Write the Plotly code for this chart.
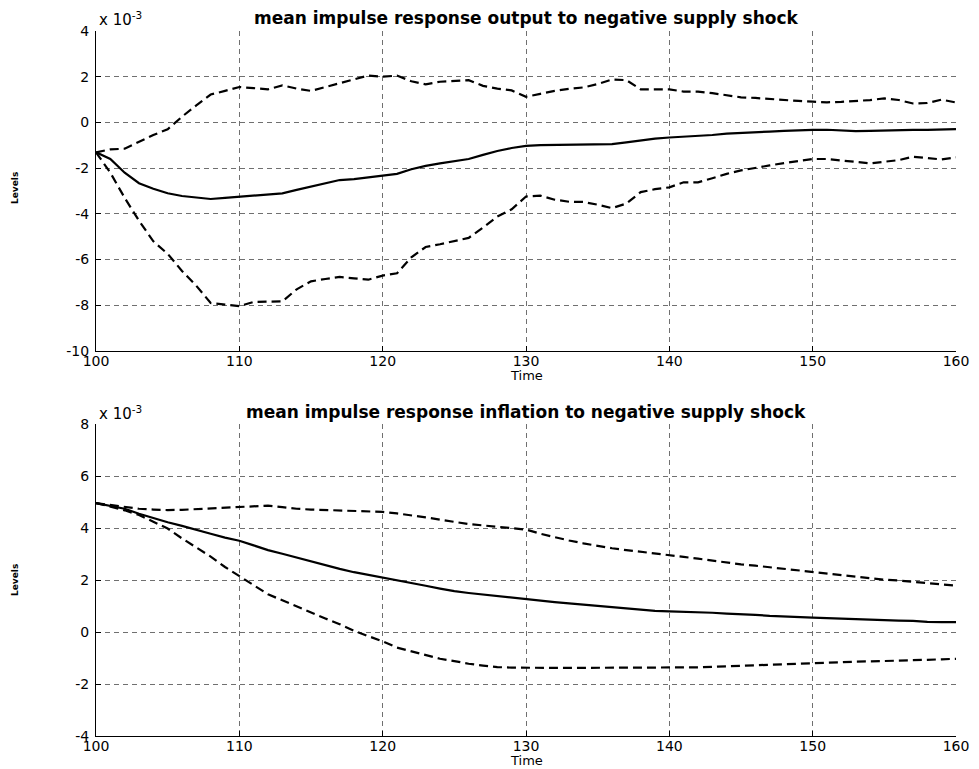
import plotly.graph_objects as go
from plotly.subplots import make_subplots

# time axis (periods)
time = list(range(100, 161))

# output response, units of 1e-3
output_upper = [-1.31, -1.18, -1.15, -0.85, -0.55, -0.30, 0.25, 0.75, 1.22, 1.38,
                1.55, 1.50, 1.45, 1.62, 1.48, 1.38, 1.55, 1.72, 1.90, 2.05,
                2.00, 2.05, 1.80, 1.67, 1.78, 1.82, 1.85, 1.60, 1.48, 1.40,
                1.12, 1.25, 1.38, 1.47, 1.53, 1.68, 1.88, 1.85, 1.45, 1.45,
                1.45, 1.35, 1.35, 1.28, 1.20, 1.10, 1.07, 1.02, 0.98, 0.94,
                0.91, 0.88, 0.90, 0.93, 0.98, 1.05, 0.98, 0.83, 0.85, 1.00,
                0.87]
output_mean = [-1.31, -1.60, -2.20, -2.66, -2.90, -3.10, -3.22, -3.30, -3.35, -3.30,
               -3.25, -3.22, -3.15, -3.10, -2.95, -2.81, -2.65, -2.52, -2.48, -2.40,
               -2.35, -2.25, -2.05, -1.90, -1.79, -1.68, -1.60, -1.42, -1.25, -1.12,
               -1.03, -0.99, -0.98, -0.96, -0.95, -0.95, -0.95, -0.87, -0.78, -0.71,
               -0.66, -0.63, -0.60, -0.55, -0.49, -0.45, -0.43, -0.40, -0.37, -0.34,
               -0.33, -0.32, -0.36, -0.38, -0.37, -0.35, -0.34, -0.33, -0.33, -0.31,
               -0.29]
output_lower = [-1.31, -2.20, -3.30, -4.30, -5.20, -5.75, -6.50, -7.15, -7.90, -7.98,
                -8.04, -7.85, -7.83, -7.83, -7.30, -6.95, -6.85, -6.76, -6.82, -6.88,
                -6.70, -6.60, -5.90, -5.45, -5.33, -5.20, -5.05, -4.60, -4.12, -3.80,
                -3.24, -3.20, -3.38, -3.47, -3.48, -3.60, -3.75, -3.55, -3.05, -2.92,
                -2.84, -2.62, -2.62, -2.44, -2.25, -2.10, -1.98, -1.88, -1.78, -1.70,
                -1.60, -1.60, -1.67, -1.72, -1.79, -1.72, -1.65, -1.50, -1.55, -1.62,
                -1.53]

# inflation response, units of 1e-3
infl_upper = [4.96, 4.88, 4.80, 4.74, 4.71, 4.69, 4.70, 4.73, 4.76, 4.79,
              4.81, 4.85, 4.86, 4.80, 4.74, 4.71, 4.69, 4.67, 4.66, 4.64,
              4.62, 4.56, 4.49, 4.41, 4.32, 4.24, 4.15, 4.10, 4.04, 3.99,
              3.94, 3.78, 3.64, 3.52, 3.41, 3.31, 3.22, 3.15, 3.09, 3.02,
              2.96, 2.89, 2.82, 2.74, 2.67, 2.60, 2.55, 2.49, 2.43, 2.37,
              2.31, 2.24, 2.17, 2.11, 2.06, 2.01, 1.98, 1.93, 1.87, 1.82,
              1.78]
infl_mean = [4.96, 4.84, 4.74, 4.55, 4.38, 4.22, 4.08, 3.94, 3.78, 3.63,
             3.51, 3.33, 3.15, 3.01, 2.86, 2.71, 2.56, 2.43, 2.30, 2.20,
             2.10, 1.99, 1.88, 1.78, 1.67, 1.57, 1.50, 1.44, 1.37, 1.31,
             1.27, 1.21, 1.15, 1.10, 1.05, 1.01, 0.95, 0.89, 0.84, 0.81,
             0.79, 0.78, 0.77, 0.74, 0.71, 0.69, 0.66, 0.62, 0.59, 0.57,
             0.55, 0.53, 0.51, 0.48, 0.46, 0.45, 0.44, 0.43, 0.39, 0.38,
             0.38]
infl_lower = [4.96, 4.82, 4.68, 4.50, 4.25, 3.98, 3.60, 3.25, 2.90, 2.50,
              2.14, 1.78, 1.45, 1.22, 0.98, 0.75, 0.52, 0.30, 0.05, -0.16,
              -0.36, -0.60, -0.74, -0.90, -1.03, -1.12, -1.22, -1.29, -1.35, -1.37,
              -1.38, -1.38, -1.38, -1.38, -1.38, -1.38, -1.38, -1.38, -1.38, -1.38,
              -1.38, -1.36, -1.36, -1.34, -1.32, -1.29, -1.27, -1.24, -1.22, -1.20,
              -1.18, -1.16, -1.15, -1.14, -1.13, -1.12, -1.10, -1.09, -1.07, -1.05,
              -1.03]

x_ticks = [100, 110, 120, 130, 140, 150, 160]
y_ticks_top = [-10, -8, -6, -4, -2, 0, 2, 4]
y_ticks_bottom = [-4, -2, 0, 2, 4, 6, 8]

titles = ["mean impulse response output to negative supply shock",
          "mean impulse response inflation to negative supply shock"]

FONT = "DejaVu Sans, Liberation Sans, Arial"
W, H = 979, 769
OFF = 8  # page body margin shifts the figure by 8px
# plot box in screen pixels
LEFT, RIGHT, TOP, BOTTOM = 96, 956, 31, 736
ML, MT = LEFT - OFF, TOP - OFF
MR, MB = W - (RIGHT - OFF), H - (BOTTOM - OFF)
PW, PH = RIGHT - LEFT, BOTTOM - TOP


def py(pix):
    # screen pixel row -> paper y
    return (BOTTOM - pix) / PH


def px(pix):
    return (pix - LEFT) / PW


fig = make_subplots(rows=2, cols=1)

panels = [
    (1, output_upper, output_mean, output_lower),
    (2, infl_upper, infl_mean, infl_lower),
]
for row, up, mid, lo in panels:
    for ys, dash in [(up, "9px,5px"), (lo, "9px,5px"), (mid, "solid")]:
        fig.add_trace(go.Scatter(
            x=time, y=ys, mode="lines",
            line=dict(color="black", width=2.2, dash=dash),
            showlegend=False, hoverinfo="skip"
        ), row=row, col=1)

axis_common = dict(
    automargin=False,
    showgrid=True, gridcolor="#707070", gridwidth=1, griddash="5px,4px",
    zeroline=False, showline=True, linecolor="black", linewidth=1,
    ticks="inside", ticklen=5, tickcolor="black",
    tickfont=dict(family=FONT, size=14, color="black"),
)

fig.update_xaxes(range=[100, 160], tickvals=x_ticks, ticklabelstandoff=-3,
                 ticktext=[str(v) for v in x_ticks], **axis_common)
fig.update_yaxes(ticklabelstandoff=3, **axis_common)

fig.update_layout(
    xaxis=dict(domain=[0, 1]),
    xaxis2=dict(domain=[0, 1]),
    yaxis=dict(domain=[py(351), 1], range=[-10, 4], tickvals=y_ticks_top,
               ticktext=[str(v) for v in y_ticks_top]),
    yaxis2=dict(domain=[0, py(424)], range=[-4, 8], tickvals=y_ticks_bottom,
                ticktext=[str(v) for v in y_ticks_bottom]),
    width=W, height=H,
    margin=dict(l=ML, r=MR, t=MT, b=MB),
    plot_bgcolor="white", paper_bgcolor="white",
    hovermode=False,
)

ann = []
for title, t_pix, e_pix, ylab_pix, time_pix in [(titles[0], 18, 19, 188, 375),
                                                 (titles[1], 412, 413, 580, 760)]:
    ann.append(dict(text="<b>" + title + "</b>", x=0.5, y=py(t_pix),
                    xref="paper", yref="paper", xanchor="center", yanchor="middle",
                    showarrow=False, font=dict(family=FONT, size=17, color="black")))
    ann.append(dict(text="x 10<sup>-3</sup>", x=px(97), y=py(e_pix),
                    xref="paper", yref="paper", xanchor="left", yanchor="middle",
                    showarrow=False, font=dict(family=FONT, size=15, color="black")))
    ann.append(dict(text="<b>Levels</b>", x=px(15), y=py(ylab_pix), textangle=-90,
                    xref="paper", yref="paper", xanchor="center", yanchor="middle",
                    showarrow=False, font=dict(family=FONT, size=9, color="black")))
    ann.append(dict(text="Time", x=0.5, y=py(time_pix),
                    xref="paper", yref="paper", xanchor="center", yanchor="middle",
                    showarrow=False, font=dict(family=FONT, size=13, color="black")))
fig.update_layout(annotations=ann)

fig.write_html("out.html")
